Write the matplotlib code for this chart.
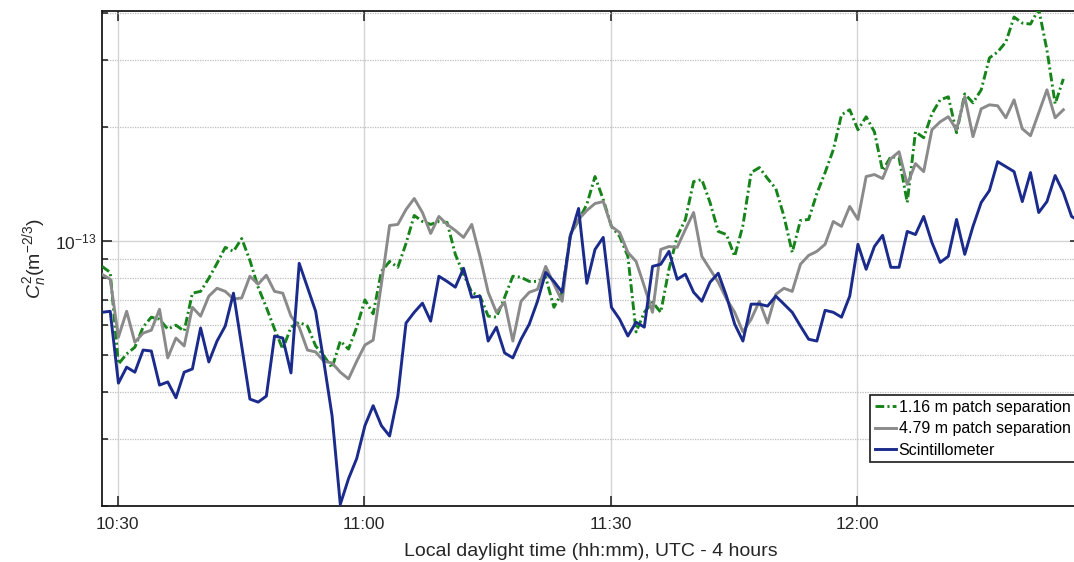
import numpy as np
import matplotlib
matplotlib.use('Agg')
import matplotlib.pyplot as plt
from matplotlib.ticker import FixedLocator, FixedFormatter, NullFormatter, LogFormatterSciNotation

# ---------------- data (C_n^2 in units of 1e-14 m^-2/3), 1-minute samples ----------------
start_min = 28.08          # first sample, minutes after 10:00 local time
step_min = 1.0

green_116 = [8.58, 8.27, 4.74, 5.04, 5.25, 5.93, 6.30, 6.22, 5.86, 6.00,
             5.79, 7.29, 7.37, 7.98, 8.74, 9.63, 9.40, 10.16, 8.90, 7.56,
             6.69, 5.86, 5.19, 5.93, 6.11, 5.97, 5.29, 4.98, 4.63, 5.45,
             5.19, 5.93, 7.00, 6.43, 8.32, 8.84, 8.53, 9.86, 11.69, 11.27,
             11.07, 11.27, 11.20, 9.23, 8.18, 7.33, 7.16, 6.34, 6.30, 7.11,
             8.08, 8.03, 7.83, 7.83, 8.03, 6.69, 7.33, 10.41, 11.34, 12.50,
             14.81, 12.88, 10.94, 10.29, 9.12, 5.76, 6.49, 6.90, 6.49, 8.43,
             10.29, 11.41, 14.36, 14.54, 12.65, 10.61, 10.41, 9.12, 11.00, 15.17,
             15.64, 14.63, 13.77, 11.62, 9.34, 11.34, 11.41, 13.36, 15.17, 17.43,
             21.56, 22.22, 19.68, 21.30, 19.44, 15.35, 16.71, 16.61, 12.65, 19.44,
             18.75, 21.69, 23.60, 24.04, 19.33, 24.48, 23.18, 25.08, 30.45, 31.57,
             33.54, 39.04, 37.64, 37.41, 41.0, 31.96, 23.04, 26.81]

gray_479 = [8.18, 7.93, 5.58, 6.53, 5.41, 5.72, 5.82, 6.61, 4.92, 5.55,
            5.29, 6.69, 6.34, 7.16, 7.51, 7.37, 7.04, 7.08, 8.08, 7.70,
            8.13, 7.37, 7.29, 6.34, 5.93, 5.16, 5.10, 4.82, 4.77, 4.51,
            4.33, 4.82, 5.32, 5.48, 7.70, 11.00, 11.07, 12.12, 12.96, 11.90,
            10.48, 11.62, 11.07, 10.67, 10.23, 11.07, 9.12, 7.33, 6.49, 6.90,
            5.45, 6.94, 7.33, 7.46, 8.58, 7.70, 6.94, 10.41, 11.41, 12.05,
            12.57, 12.72, 10.94, 10.54, 9.34, 8.84, 7.60, 6.49, 9.51, 9.68,
            9.63, 10.74, 11.90, 9.12, 8.43, 7.79, 7.04, 6.49, 5.76, 6.22,
            6.94, 6.08, 7.24, 7.51, 7.37, 8.69, 9.17, 9.40, 9.81, 11.27,
            10.94, 12.35, 11.41, 14.81, 14.99, 14.63, 16.51, 17.22, 14.11, 16.02,
            15.26, 19.68, 20.65, 21.30, 19.68, 24.04, 18.87, 22.35, 22.90, 22.77,
            21.17, 23.60, 19.80, 18.98, 21.81, 25.08, 21.17, 22.22]

scint = [6.49, 6.53, 4.22, 4.65, 4.51, 5.16, 5.13, 4.17, 4.25, 3.86,
         4.51, 4.60, 5.90, 4.80, 5.45, 5.97, 7.29, 5.29, 3.83, 3.76,
         3.90, 5.62, 5.55, 4.49, 8.74, 7.56, 6.53, 4.80, 3.46, 2.02,
         2.36, 2.67, 3.26, 3.68, 3.26, 3.06, 3.90, 6.08, 6.49, 6.86,
         6.15, 8.08, 7.83, 7.56, 8.48, 7.11, 7.16, 5.45, 5.93, 5.07,
         4.92, 5.51, 6.04, 6.94, 8.27, 7.83, 7.33, 10.29, 12.20, 7.74,
         9.51, 10.23, 6.69, 6.22, 5.62, 6.11, 5.93, 8.58, 8.69, 9.40,
         7.93, 8.18, 7.33, 6.94, 7.79, 8.23, 7.16, 6.04, 5.45, 6.82,
         6.82, 6.74, 7.16, 6.82, 6.49, 5.97, 5.51, 5.45, 6.57, 6.49,
         6.30, 7.16, 9.81, 8.43, 9.68, 10.36, 8.53, 8.53, 10.61, 10.41,
         11.62, 9.92, 8.79, 9.12, 11.41, 9.23, 10.94, 12.65, 13.60, 16.21,
         15.73, 15.26, 12.72, 15.17, 11.90, 12.72, 14.90, 13.44, 11.62, 11.27]

unit = 1e-14
series_labels = ['1.16 m patch separation', '4.79 m patch separation', 'Scintillometer']
x_tick_minutes = [30, 60, 90, 120]
x_tick_labels = ['10:30', '11:00', '11:30', '12:00']
y_major = [1e-13]
y_minor = [2e-14, 3e-14, 4e-14, 5e-14, 6e-14, 7e-14, 8e-14, 9e-14, 2e-13, 3e-13, 4e-13]

# ---------------- style ----------------
plt.rcParams['font.family'] = ['Liberation Sans', 'DejaVu Sans']
plt.rcParams['mathtext.fontset'] = 'custom'
plt.rcParams['mathtext.rm'] = 'Liberation Sans'
plt.rcParams['mathtext.it'] = 'Liberation Sans:italic'
plt.rcParams['mathtext.bf'] = 'Liberation Sans:bold'

txt = '#262626'
c_green = '#16841a'
c_gray = '#8a8a8a'
c_blue = '#1b2b8c'

fig = plt.figure(figsize=(10.74, 5.62), dpi=100)
W, H = 1074, 562
ax = fig.add_axes([102 / W, 1 - 506 / H, 977.8 / W, 495 / H])

def times(n):
    return start_min + step_min * np.arange(n)

lw = 2.1
ax.plot(times(len(green_116)), np.array(green_116) * unit, color=c_green, lw=lw,
        linestyle=(0, (3.0, 1.1, 0.7, 1.1)), label=series_labels[0], zorder=3)
ax.plot(times(len(gray_479)), np.array(gray_479) * unit, color=c_gray, lw=lw,
        label=series_labels[1], zorder=3)
ax.plot(times(len(scint)), np.array(scint) * unit, color=c_blue, lw=lw,
        label=series_labels[2], zorder=4)

ax.set_yscale('log')
ax.set_ylim(2e-14, 4.05e-13)
ax.set_xlim(start_min, start_min + 119 * step_min)

ax.xaxis.set_major_locator(FixedLocator(x_tick_minutes))
ax.xaxis.set_major_formatter(FixedFormatter(x_tick_labels))
ax.yaxis.set_major_locator(FixedLocator(y_major))
ax.yaxis.set_major_formatter(LogFormatterSciNotation())
ax.yaxis.set_minor_locator(FixedLocator(y_minor))
ax.yaxis.set_minor_formatter(NullFormatter())

ax.set_axisbelow(True)
ax.grid(True, which='major', axis='both', color='#d4d4d4', lw=1.0, ls='-')
ax.grid(True, which='minor', axis='y', color='#bdbdbd', lw=0.9, ls=(0, (1, 1)))

for s in ax.spines.values():
    s.set_color('#1a1a1a')
    s.set_linewidth(1.3)

ax.tick_params(which='both', direction='in', top=True, right=True, width=1.1, color='#1a1a1a')
ax.tick_params(which='major', length=7)
ax.tick_params(which='minor', length=4.3)
ax.tick_params(axis='x', which='major', labelsize=12.5, pad=8, labelcolor=txt)
ax.tick_params(axis='y', which='major', labelsize=12.5, pad=4, labelcolor=txt)

ax.set_xlabel('Local daylight time (hh:mm), UTC - 4 hours', fontsize=14, color=txt, labelpad=8)
ax.set_ylabel(r'$C_n^2$(m$^{-2/3}$)', fontsize=14, color=txt, labelpad=4)

leg = ax.legend(loc='upper left', bbox_to_anchor=(870 / W, 1 - 395 / H),
                bbox_transform=fig.transFigure, fontsize=11.5, frameon=True,
                fancybox=False, edgecolor='#1a1a1a', framealpha=1,
                handlelength=1.3, handletextpad=0.2, borderpad=0.3,
                labelspacing=0.4, borderaxespad=0)
leg.get_frame().set_linewidth(1.2)

fig.savefig('out.png', dpi=100)
